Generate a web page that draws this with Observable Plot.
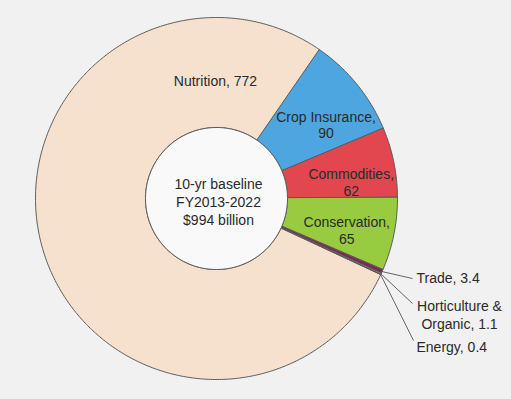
<!DOCTYPE html>
<html><head><meta charset="utf-8">
<script src="https://cdn.jsdelivr.net/npm/d3@7"></script>
<script src="https://cdn.jsdelivr.net/npm/@observablehq/plot@0.6"></script>
<style>html,body{margin:0;padding:0;background:#f1f1f1}</style>
</head><body><div id="chart"></div>
<script>
// ---- data ----
const categories = ["Crop Insurance", "Commodities", "Conservation", "Trade", "Horticulture & Organic", "Energy", "Nutrition"];
const values = [90, 62, 65, 3.4, 1.1, 0.4, 772];
const sliceLabels = ["Crop Insurance,\n90", "Commodities,\n62", "Conservation,\n65", "Trade, 3.4", "Horticulture &\nOrganic, 1.1", "Energy, 0.4", "Nutrition, 772"];
const colors = ["#4ea6e0", "#e2474f", "#98cb3f", "#7a2a55", "#c9a7a0", "#6b6b6b", "#f6e1cf"];
const centerText = ["10-yr baseline", "FY2013-2022", "$994 billion"];

// ---- layout (pixel geometry, not data) ----
const W = 511, H = 399, cx = 216, cy = 198, R = 181;
const innerR = 71 / R;
const startDeg = 34.6;
const inside = {"Crop Insurance": [56, 0.73], "Commodities": [83, 0.75], "Conservation": [103.5, 0.74], "Nutrition": [-0.5, 0.65]};
const outside = {"Trade": {lx: 412, ly: 278, tx: 416, ty: 277, anchor: "start"},
                 "Horticulture & Organic": {lx: 412, ly: 303, tx: 459, ty: 314, anchor: "middle"},
                 "Energy": {lx: 413, ly: 340, tx: 416, ty: 346, anchor: "start"}};

const toX = px => (px - cx) / R, toY = py => (cy - py) / R;
const rad = d => d * Math.PI / 180;
const pt = (a, r) => ({x: r * Math.sin(a), y: r * Math.cos(a)});

const arcs = d3.pie().sort(null).value(d => d)
  .startAngle(rad(startDeg)).endAngle(rad(startDeg) + 2 * Math.PI)(values);

const rows = [];
arcs.forEach((s, i) => {
  const n = Math.max(2, Math.ceil((s.endAngle - s.startAngle) / 0.01));
  for (let k = 0; k <= n; k++) rows.push({...pt(s.startAngle + (s.endAngle - s.startAngle) * k / n, 1), cat: categories[i]});
  for (let k = n; k >= 0; k--) rows.push({...pt(s.startAngle + (s.endAngle - s.startAngle) * k / n, innerR), cat: categories[i]});
});
const hole = d3.range(0, 361, 2).map(d => ({...pt(rad(d), innerR)}));

const inLabels = categories.map((c, i) => ({c, i})).filter(d => inside[d.c]).map(d => {
  const [deg, r] = inside[d.c];
  return {...pt(rad(deg), r), text: sliceLabels[d.i]};
});
const links = categories.map((c, i) => ({c, i})).filter(d => outside[d.c]).map(d => {
  const o = outside[d.c], s = arcs[d.i], mid = (s.startAngle + s.endAngle) / 2;
  const p = pt(mid, 1);
  return {x1: p.x, y1: p.y, x2: toX(o.lx), y2: toY(o.ly), tx: toX(o.tx), ty: toY(o.ty), anchor: o.anchor, text: sliceLabels[d.i]};
});

const font = "Liberation Sans, Arial, sans-serif";
const fs = 14, ink = "#2a2a2a";
const plot = Plot.plot({
  width: W, height: H, margin: 0,
  style: {background: "#f1f1f1", fontFamily: font},
  x: {domain: [toX(0), toX(W)], range: [0, W], axis: null},
  y: {domain: [toY(H), toY(0)], range: [H, 0], axis: null},
  color: {domain: categories, range: colors},
  marks: [
    Plot.line(rows, {x: "x", y: "y", z: "cat", fill: "cat", stroke: "#5a5a5a", strokeWidth: 1, curve: "linear-closed"}),
    Plot.line(hole, {x: "x", y: "y", fill: "#f9f9f9", stroke: "#5a5a5a", strokeWidth: 1, curve: "linear-closed"}),
    Plot.link(links, {x1: "x1", y1: "y1", x2: "x2", y2: "y2", stroke: "#555", strokeWidth: 0.9}),
    Plot.text(links.filter(d => d.anchor === "start"), {x: "tx", y: "ty", text: "text", textAnchor: "start", fontSize: fs, fill: ink, lineHeight: 1.3}),
    Plot.text(links.filter(d => d.anchor === "middle"), {x: "tx", y: "ty", text: "text", textAnchor: "middle", fontSize: fs, fill: ink, lineHeight: 1.3}),
    Plot.text(inLabels, {x: "x", y: "y", text: "text", fontSize: fs, fill: ink, lineHeight: 1.2}),
    Plot.text([centerText.join("\n")], {x: () => toX(218), y: () => toY(201), text: d => d, fontSize: fs, fill: ink, lineHeight: 1.28})
  ]
});
document.getElementById("chart").append(plot);
</script>
</body></html>
